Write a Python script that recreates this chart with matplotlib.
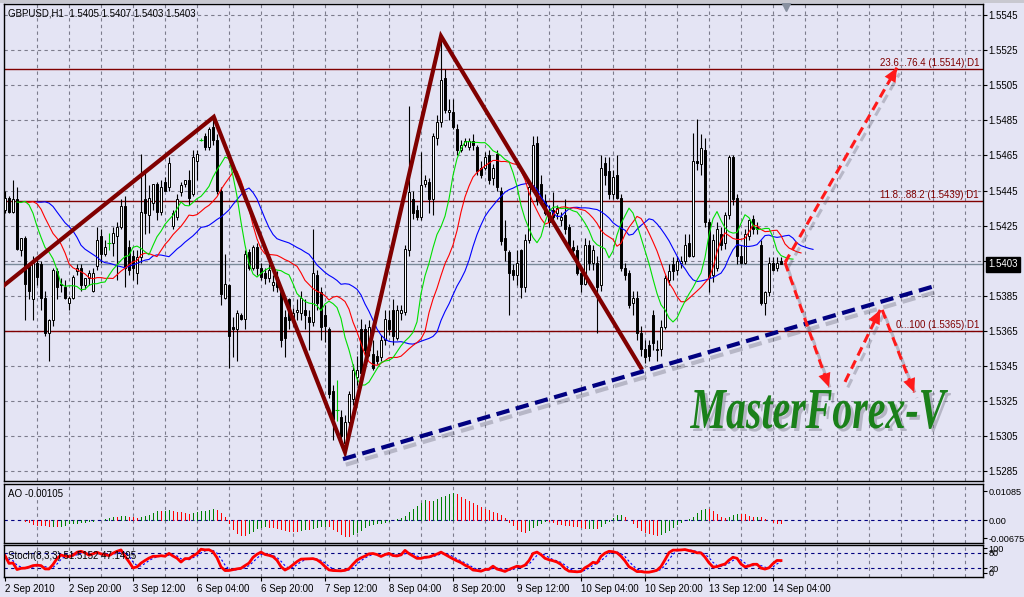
import numpy as np
import pandas as pd
import matplotlib
matplotlib.use("Agg")
import matplotlib.pyplot as plt
import matplotlib.patheffects as pe
import matplotlib.transforms as mtransforms
from matplotlib.textpath import TextPath
from matplotlib.patches import PathPatch, Rectangle
from matplotlib.font_manager import FontProperties

# GBPUSD H1 bars, 2 Sep 2010 04:00 .. 14 Sep 2010
opens = [
    1.5434, 1.5441, 1.5433, 1.5440, 1.5411, 1.5418, 1.5403, 1.5383, 1.5404, 1.5403,
    1.5384, 1.5364, 1.5371, 1.5399, 1.5392, 1.5390, 1.5381, 1.5384, 1.5399, 1.5401,
    1.5391, 1.5395, 1.5388, 1.5402, 1.5419, 1.5409, 1.5415, 1.5415, 1.5419, 1.5424,
    1.5436, 1.5413, 1.5408, 1.5398, 1.5407, 1.5440, 1.5431, 1.5438, 1.5449, 1.5433,
    1.5450, 1.5447, 1.5425, 1.5430, 1.5444, 1.5449, 1.5451, 1.5443, 1.5462, 1.5474,
    1.5476, 1.5470, 1.5481, 1.5474, 1.5445, 1.5384, 1.5391, 1.5367, 1.5366, 1.5374,
    1.5372, 1.5410, 1.5401, 1.5413, 1.5401, 1.5398, 1.5395, 1.5391, 1.5396, 1.5387,
    1.5373, 1.5383, 1.5371, 1.5376, 1.5375, 1.5377, 1.5373, 1.5370, 1.5397, 1.5387,
    1.5374, 1.5366, 1.5331, 1.5320, 1.5316, 1.5301, 1.5313, 1.5326, 1.5339, 1.5366,
    1.5366, 1.5354, 1.5352, 1.5351, 1.5350, 1.5360, 1.5371, 1.5377, 1.5361, 1.5375,
    1.5376, 1.5411, 1.5440, 1.5434, 1.5430, 1.5449, 1.5450, 1.5440, 1.5475, 1.5484,
    1.5509, 1.5490, 1.5490, 1.5480, 1.5468, 1.5471, 1.5470, 1.5473, 1.5470, 1.5458,
    1.5458, 1.5465, 1.5452, 1.5466, 1.5445, 1.5418, 1.5410, 1.5400, 1.5397, 1.5411,
    1.5390, 1.5417, 1.5447, 1.5472, 1.5449, 1.5439, 1.5433, 1.5434, 1.5432, 1.5428,
    1.5431, 1.5424, 1.5413, 1.5411, 1.5398, 1.5392, 1.5414, 1.5404, 1.5404, 1.5391,
    1.5461, 1.5456, 1.5443, 1.5454, 1.5441, 1.5401, 1.5398, 1.5381, 1.5384, 1.5364,
    1.5355, 1.5357, 1.5374, 1.5354, 1.5355, 1.5367, 1.5394, 1.5403, 1.5400, 1.5404,
    1.5405, 1.5415, 1.5408, 1.5462, 1.5460, 1.5468, 1.5427, 1.5397, 1.5401, 1.5420,
    1.5415, 1.5431, 1.5464, 1.5441, 1.5408, 1.5404, 1.5419, 1.5429, 1.5424, 1.5414,
    1.5381, 1.5387, 1.5404, 1.5401, 1.5405,
]
highs = [
    1.5445, 1.5442, 1.5451, 1.5447, 1.5418, 1.5419, 1.5404, 1.5408, 1.5407, 1.5405,
    1.5388, 1.5372, 1.5401, 1.5401, 1.5395, 1.5394, 1.5385, 1.5397, 1.5403, 1.5403,
    1.5395, 1.5400, 1.5401, 1.5424, 1.5423, 1.5417, 1.5421, 1.5424, 1.5427, 1.5440,
    1.5442, 1.5417, 1.5411, 1.5411, 1.5466, 1.5457, 1.5448, 1.5449, 1.5450, 1.5451,
    1.5453, 1.5464, 1.5434, 1.5443, 1.5450, 1.5451, 1.5457, 1.5468, 1.5468, 1.5475,
    1.5478, 1.5481, 1.5487, 1.5477, 1.5447, 1.5409, 1.5392, 1.5373, 1.5377, 1.5375,
    1.5411, 1.5412, 1.5414, 1.5415, 1.5404, 1.5401, 1.5403, 1.5397, 1.5399, 1.5388,
    1.5377, 1.5384, 1.5378, 1.5383, 1.5388, 1.5383, 1.5377, 1.5423, 1.5400, 1.5390,
    1.5380, 1.5367, 1.5334, 1.5337, 1.5320, 1.5317, 1.5331, 1.5346, 1.5351, 1.5372,
    1.5369, 1.5371, 1.5360, 1.5354, 1.5363, 1.5377, 1.5377, 1.5383, 1.5380, 1.5380,
    1.5414, 1.5493, 1.5445, 1.5437, 1.5467, 1.5454, 1.5452, 1.5478, 1.5488, 1.5533,
    1.5514, 1.5497, 1.5497, 1.5483, 1.5474, 1.5475, 1.5475, 1.5477, 1.5471, 1.5462,
    1.5467, 1.5468, 1.5460, 1.5468, 1.5447, 1.5428, 1.5411, 1.5403, 1.5411, 1.5412,
    1.5420, 1.5451, 1.5476, 1.5476, 1.5454, 1.5443, 1.5437, 1.5444, 1.5437, 1.5433,
    1.5440, 1.5426, 1.5417, 1.5414, 1.5401, 1.5418, 1.5417, 1.5414, 1.5408, 1.5465,
    1.5464, 1.5464, 1.5457, 1.5465, 1.5443, 1.5404, 1.5400, 1.5388, 1.5388, 1.5368,
    1.5360, 1.5360, 1.5377, 1.5360, 1.5371, 1.5397, 1.5403, 1.5407, 1.5408, 1.5408,
    1.5420, 1.5420, 1.5478, 1.5486, 1.5477, 1.5475, 1.5429, 1.5420, 1.5427, 1.5424,
    1.5433, 1.5465, 1.5465, 1.5443, 1.5414, 1.5423, 1.5429, 1.5431, 1.5427, 1.5417,
    1.5388, 1.5407, 1.5407, 1.5407, 1.5407,
]
lows = [
    1.5432, 1.5432, 1.5432, 1.5411, 1.5408, 1.5371, 1.5383, 1.5371, 1.5391, 1.5377,
    1.5362, 1.5348, 1.5368, 1.5383, 1.5387, 1.5383, 1.5377, 1.5383, 1.5397, 1.5388,
    1.5389, 1.5391, 1.5387, 1.5400, 1.5404, 1.5408, 1.5411, 1.5408, 1.5394, 1.5423,
    1.5390, 1.5397, 1.5394, 1.5392, 1.5404, 1.5420, 1.5421, 1.5434, 1.5428, 1.5431,
    1.5445, 1.5445, 1.5423, 1.5428, 1.5442, 1.5447, 1.5437, 1.5442, 1.5451, 1.5473,
    1.5468, 1.5468, 1.5471, 1.5443, 1.5380, 1.5383, 1.5344, 1.5350, 1.5348, 1.5371,
    1.5366, 1.5400, 1.5400, 1.5397, 1.5394, 1.5392, 1.5393, 1.5388, 1.5387, 1.5356,
    1.5350, 1.5366, 1.5368, 1.5371, 1.5371, 1.5366, 1.5354, 1.5368, 1.5377, 1.5360,
    1.5359, 1.5327, 1.5303, 1.5314, 1.5303, 1.5295, 1.5309, 1.5323, 1.5334, 1.5338,
    1.5348, 1.5351, 1.5343, 1.5346, 1.5348, 1.5357, 1.5363, 1.5357, 1.5360, 1.5371,
    1.5374, 1.5408, 1.5429, 1.5428, 1.5428, 1.5447, 1.5432, 1.5431, 1.5471, 1.5481,
    1.5489, 1.5485, 1.5480, 1.5465, 1.5467, 1.5470, 1.5468, 1.5468, 1.5454, 1.5452,
    1.5457, 1.5449, 1.5448, 1.5445, 1.5414, 1.5405, 1.5374, 1.5394, 1.5391, 1.5384,
    1.5387, 1.5415, 1.5444, 1.5437, 1.5437, 1.5431, 1.5424, 1.5428, 1.5429, 1.5425,
    1.5420, 1.5411, 1.5408, 1.5397, 1.5387, 1.5391, 1.5400, 1.5400, 1.5364, 1.5388,
    1.5448, 1.5440, 1.5440, 1.5440, 1.5399, 1.5394, 1.5378, 1.5374, 1.5360, 1.5351,
    1.5347, 1.5348, 1.5354, 1.5348, 1.5351, 1.5366, 1.5391, 1.5394, 1.5397, 1.5401,
    1.5403, 1.5407, 1.5407, 1.5457, 1.5454, 1.5424, 1.5387, 1.5393, 1.5399, 1.5411,
    1.5412, 1.5429, 1.5437, 1.5403, 1.5403, 1.5403, 1.5417, 1.5420, 1.5420, 1.5380,
    1.5374, 1.5385, 1.5399, 1.5399, 1.5403,
]
closes = [
    1.5441, 1.5433, 1.5440, 1.5412, 1.5418, 1.5392, 1.5388, 1.5404, 1.5396, 1.5384,
    1.5364, 1.5371, 1.5400, 1.5390, 1.5391, 1.5384, 1.5384, 1.5396, 1.5401, 1.5391,
    1.5395, 1.5398, 1.5398, 1.5417, 1.5409, 1.5413, 1.5415, 1.5421, 1.5424, 1.5436,
    1.5401, 1.5400, 1.5401, 1.5407, 1.5433, 1.5432, 1.5441, 1.5449, 1.5433, 1.5447,
    1.5445, 1.5461, 1.5432, 1.5440, 1.5448, 1.5451, 1.5441, 1.5464, 1.5466, 1.5474,
    1.5470, 1.5480, 1.5474, 1.5445, 1.5386, 1.5392, 1.5362, 1.5366, 1.5375, 1.5372,
    1.5409, 1.5401, 1.5413, 1.5401, 1.5396, 1.5395, 1.5400, 1.5393, 1.5390, 1.5360,
    1.5361, 1.5371, 1.5375, 1.5377, 1.5384, 1.5374, 1.5370, 1.5398, 1.5381, 1.5367,
    1.5368, 1.5329, 1.5315, 1.5320, 1.5305, 1.5313, 1.5329, 1.5343, 1.5343, 1.5341,
    1.5354, 1.5367, 1.5344, 1.5348, 1.5360, 1.5372, 1.5366, 1.5362, 1.5377, 1.5377,
    1.5412, 1.5444, 1.5432, 1.5430, 1.5448, 1.5451, 1.5440, 1.5476, 1.5484, 1.5508,
    1.5491, 1.5491, 1.5481, 1.5468, 1.5471, 1.5473, 1.5473, 1.5471, 1.5456, 1.5454,
    1.5464, 1.5451, 1.5458, 1.5447, 1.5416, 1.5411, 1.5398, 1.5397, 1.5404, 1.5390,
    1.5417, 1.5447, 1.5471, 1.5439, 1.5439, 1.5432, 1.5427, 1.5430, 1.5435, 1.5430,
    1.5423, 1.5413, 1.5411, 1.5398, 1.5392, 1.5414, 1.5404, 1.5411, 1.5390, 1.5458,
    1.5454, 1.5443, 1.5453, 1.5441, 1.5401, 1.5397, 1.5380, 1.5384, 1.5364, 1.5355,
    1.5350, 1.5351, 1.5358, 1.5355, 1.5367, 1.5395, 1.5399, 1.5399, 1.5405, 1.5405,
    1.5414, 1.5408, 1.5462, 1.5461, 1.5469, 1.5427, 1.5396, 1.5417, 1.5423, 1.5414,
    1.5431, 1.5464, 1.5440, 1.5408, 1.5404, 1.5420, 1.5428, 1.5423, 1.5423, 1.5381,
    1.5387, 1.5404, 1.5400, 1.5404, 1.5403,
]

time_labels = ["2 Sep 2010", "2 Sep 20:00", "3 Sep 12:00", "6 Sep 04:00", "6 Sep 20:00",
               "7 Sep 12:00", "8 Sep 04:00", "8 Sep 20:00", "9 Sep 12:00", "10 Sep 04:00",
               "10 Sep 20:00", "13 Sep 12:00", "14 Sep 04:00"]
price_ticks = [1.5285, 1.5305, 1.5325, 1.5345, 1.5365, 1.5385, 1.5405,
               1.5425, 1.5445, 1.5465, 1.5485, 1.5505, 1.5525, 1.5545]
fib_levels = [1.5514, 1.5439, 1.5365]
fib_texts = ["23.6...76.4 (1.5514) D1", "11.8...88.2 (1.5439) D1", "0...100 (1.5365) D1"]
bid = 1.5403

zigzag_bar = [-0.25, 52.2, 85, 109, 159]
zigzag_price = [1.5391, 1.5487, 1.5296, 1.5533, 1.5344]
trend_bar = [84.5, 233]
trend_price = [1.5292, 1.5391]
arrow_from_bar = [195, 195, 210, 219.3]
arrow_from_price = [1.5404, 1.5404, 1.5336, 1.5377]
arrow_to_bar = [223, 206, 218.8, 227.3]
arrow_to_price = [1.5515, 1.5333, 1.5377, 1.5330]

W, H = 1024, 597
BG = "#E4E4F4"
GRID = "#7C7C8C"
MAROON = "#800000"
NAVY = "#000080"
RED = "#FF1A1A"
DOJI = "#00C800"

plt.rcParams["font.family"] = ["Liberation Sans", "DejaVu Sans"]
plt.rcParams["font.size"] = 7

fig = plt.figure(figsize=(W / 100, H / 100), dpi=100, facecolor=BG)


def rect(x0, y0, x1, y1):
    return [x0 / W, 1 - y1 / H, (x1 - x0) / W, (y1 - y0) / H]


ax = fig.add_axes(rect(4, 4, 983, 481))
ax_ao = fig.add_axes(rect(4, 484, 983, 543))
ax_st = fig.add_axes(rect(4, 545, 983, 577))

for a in (ax, ax_ao, ax_st):
    a.set_facecolor(BG)
    a.set_xlim(-0.25, 244.5)
    for s in a.spines.values():
        s.set_color("black")
        s.set_linewidth(1.0)
    a.set_xticks(np.arange(8, 245, 8), minor=True)
    a.xaxis.remove_overlapping_locs = False
    a.grid(True, which="minor", axis="x", color=GRID, lw=0.8, ls=(0, (3, 3)))
    a.tick_params(axis="x", which="both", length=0, labelbottom=False)
    a.yaxis.tick_right()
    a.tick_params(axis="y", length=3, width=0.8, pad=1, labelsize=7, colors="black")
    a.set_axisbelow(True)

# ---- main price panel
ax.set_ylim(1.527953, 1.555132)
ax.set_yticks(price_ticks)
ax.set_yticklabels(["" if abs(v - 1.5405) < 1e-6 else f"{v:.4f}" for v in price_ticks])
ax.grid(True, which="major", axis="y", color=GRID, lw=0.8, ls=(0, (3, 3)))

idx = np.arange(len(closes))
o, h, l, c = (np.array(v) for v in (opens, highs, lows, closes))
doji = np.isclose(o, c)
up = c > o

for lvl in fib_levels:
    ax.axhline(lvl, color=MAROON, lw=1, zorder=1.5)
ax.axhline(bid, color="#7A8A9A", lw=1, zorder=1.5)

ax.vlines(idx, l, h, colors=np.where(doji, DOJI, "black"), lw=0.8, zorder=2)
nd = ~doji
ax.bar(idx[nd], np.abs(c - o)[nd], bottom=np.minimum(o, c)[nd], width=0.5,
       color=np.where(up, "white", "black")[nd], edgecolor="black", lw=0.7, zorder=3)
ax.hlines(c[doji], idx[doji] - 0.4, idx[doji] + 0.4, colors=DOJI, lw=0.8, zorder=3)

# Alligator (SMMA of median price, shifted forward)
median = pd.Series((h + l) / 2)
for period, shift, col in ((13, 8, "#0000FF"), (8, 5, "#FF0000"), (5, 3, "#00E000")):
    smma = median.ewm(alpha=1 / period, adjust=False).mean()
    ax.plot(idx + shift, smma, color=col, lw=0.8, zorder=4)

ax.plot(zigzag_bar, zigzag_price, color=MAROON, lw=3, zorder=6, solid_joinstyle="miter")

shadow = [pe.SimpleLineShadow(offset=(2, -4), shadow_color="#505060", alpha=0.3), pe.Normal()]
ax.plot(trend_bar, trend_price, color=NAVY, lw=3, ls=(0, (3.2, 1.6)), zorder=7,
        path_effects=shadow)
for x0, y0, x1, y1 in zip(arrow_from_bar, arrow_from_price, arrow_to_bar, arrow_to_price):
    ax.plot([x0, x1], [y0, y1], color=RED, lw=2.2, ls=(0, (3, 1.8)), zorder=8,
            path_effects=shadow)
    ax.annotate("", xy=(x1, y1), xytext=(x0, y0), zorder=9,
                arrowprops=dict(arrowstyle="-|>,head_length=1.0,head_width=0.45",
                                color=RED, lw=0, mutation_scale=10,
                                shrinkA=0, shrinkB=0))

for lvl, txt in zip(fib_levels, fib_texts):
    ax.annotate(txt, xy=(0.996, lvl), xycoords=("axes fraction", "data"),
                xytext=(0, 1), textcoords="offset points", ha="right", va="bottom",
                color=MAROON, fontsize=7, zorder=10)

ax.annotate(f"{bid:.4f}", xy=(1, bid), xycoords=("axes fraction", "data"),
            xytext=(4, 0), textcoords="offset points", ha="left", va="center",
            color="white", fontsize=7, annotation_clip=False,
            bbox=dict(boxstyle="square,pad=0.25", fc="black", ec="black"))

ax.text(0.004, 0.981, "GBPUSD,H1  1.5405 1.5407 1.5403 1.5403", transform=ax.transAxes,
        ha="left", va="center", fontsize=7, zorder=10)

# chart shift marker
ax.plot([195.25], [1.55500], marker="v", ms=7, color="#8890A0", clip_on=False, zorder=10)

# MasterForex-V signature (condensed italic)
fp = FontProperties(family="Liberation Serif", style="italic", weight="bold")
tp = TextPath((0, 0), "MasterForex-V", size=1, prop=fp)
ext = tp.get_extents()
sx = 258 / ext.width
sy = 58
for dx, dy, colr, alp in ((3, -3, "#606070", 0.35), (0, 0, "#1A801A", 1.0)):
    tr = mtransforms.Affine2D().translate(-ext.x0, 0).scale(sx / 100, sy / 100) \
        .translate((690 + dx) / 100, (H - 428 + dy) / 100) + fig.dpi_scale_trans
    fig.patches.append(PathPatch(tp, transform=tr, fc=colr, ec="none", alpha=alp,
                                 zorder=20))

# ---- Awesome Oscillator
ao = (median.rolling(5, min_periods=1).mean() - median.rolling(34, min_periods=1).mean()).values
ao_col = np.where(np.diff(ao, prepend=ao[0]) > 0, "#008000", "#FF0000")
ax_ao.set_ylim(-0.0086, 0.01347)
ax_ao.axhline(0, color=NAVY, lw=0.8, ls=(0, (3, 3)))
ax_ao.vlines(idx, 0, ao, colors=ao_col, lw=0.72, antialiased=False)
ax_ao.set_yticks([-0.00675, 0.0, 0.01085])
ax_ao.set_yticklabels(["-0.00675", "0.00", "0.01085"])
ax_ao.tick_params(axis="y", labelsize=6.6)
ax_ao.text(0.004, 0.83, "AO -0.00105", transform=ax_ao.transAxes, ha="left", va="center",
           fontsize=7)

# ---- Stochastic (8,3,3)
cs, hs, ls_ = pd.Series(c), pd.Series(h), pd.Series(l)
ll = ls_.rolling(8, min_periods=1).min()
hh = hs.rolling(8, min_periods=1).max()
k = 100 * (cs - ll).rolling(3, min_periods=1).sum() / (hh - ll).rolling(3, min_periods=1).sum()
d = k.rolling(3, min_periods=1).mean()
ax_st.set_ylim(-16, 112)
for lv in (20, 80):
    ax_st.axhline(lv, color=NAVY, lw=0.8, ls=(0, (3, 3)))
ax_st.plot(idx, d, color="#0000FF", lw=0.8, ls=(0, (2, 2)))
ax_st.plot(idx, k, color="#FF0000", lw=2)
ax_st.set_yticks([0, 20, 80, 100])
ax_st.set_yticklabels(["0", "20", "80", "100"])
ax_st.tick_params(axis="y", labelsize=6.6)
ax_st.text(0.004, 0.66, "Stoch(8,3,3) 51.5152 47.1495", transform=ax_st.transAxes,
           ha="left", va="center", fontsize=7)

ax_st.set_xticks(np.arange(0, 16 * len(time_labels), 16))
ax_st.set_xticklabels(time_labels, ha="left")
ax_st.tick_params(axis="x", which="major", length=3, width=0.8, pad=2, labelbottom=True,
                  labelsize=7)

fig.patches.append(Rectangle((0, 1 - 3 / H), 1, 3 / H, transform=fig.transFigure,
                             fc="#C8C8D0", ec="none"))

fig.savefig("out.png", dpi=100, facecolor=BG)
